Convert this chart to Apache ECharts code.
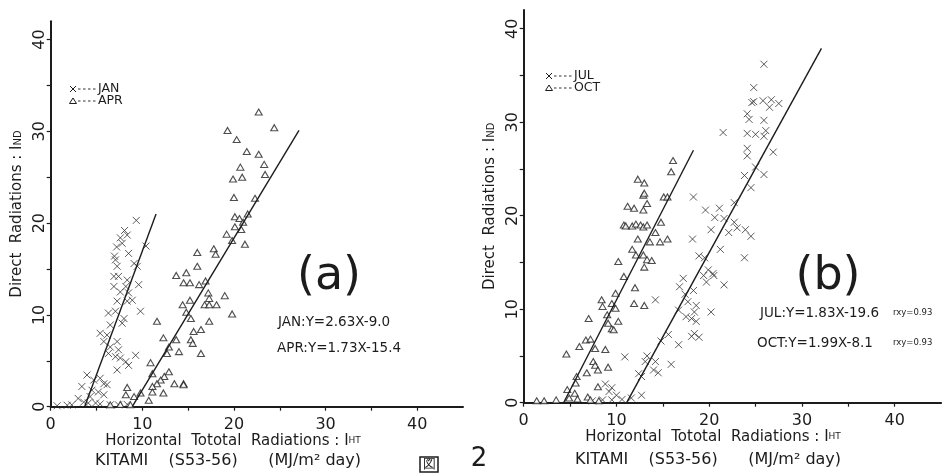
<!DOCTYPE html>
<html>
<head>
<meta charset="utf-8">
<script src="https://cdn.jsdelivr.net/npm/echarts@6/dist/echarts.min.js"></script>
<style>html,body{margin:0;padding:0;background:#fff;}#c{width:946px;height:473px;}</style>
</head>
<body>
<div id="c"></div>
<script>
// ---- tick values ----
const majorTicks = [0, 10, 20, 30, 40];
const minorTicks = [0, 5, 10, 15, 20, 25, 30, 35, 40];

// ---- panel (a): JAN (x) and APR (triangle) ----
const jan = [
  [9.34,20.3],[8.06,19.2],[8.35,18.7],[7.6,18.4],[7.8,17.8],[7.2,17.4],[10.4,17.5],[6.96,16.4],
  [7.07,16.0],[8.5,16.7],[7.25,15.3],[9.1,15.6],[9.45,15.3],[6.9,14.2],[7.4,14.2],[8.35,13.8],
  [8.2,13.1],[9.6,13.3],[6.9,13.1],[7.6,12.5],[8.5,12.4],[8.9,11.6],[7.25,11.5],[8.35,11.5],
  [9.8,10.4],[7.07,10.4],[6.3,10.2],[8.0,9.6],[7.8,9.1],[6.5,8.9],[5.4,8.0],[6.15,7.8],
  [5.8,7.1],[7.25,7.1],[6.5,6.5],[7.4,6.2],[6.3,5.8],[7.07,5.45],[7.6,5.3],[9.27,5.6],
  [8.2,4.9],[8.5,4.5],[7.25,4.0],[3.96,3.45],[5.4,3.1],[4.7,2.9],[5.8,2.5],[6.15,2.4],
  [3.4,2.2],[4.5,1.8],[5.2,1.6],[5.8,1.3],[4.3,1.1],[3.0,0.9],[3.6,0.5],[4.1,0.4],
  [4.9,0.4],[5.4,0.3],[6.5,0.2],[7.4,0.2],[1.8,0.15],[0.7,0.1],[2.3,0.2],[8.35,0.25]
];
const apr = [
  [22.7,32.1],[24.4,30.4],[19.3,30.1],[20.3,29.1],[21.4,27.8],[22.7,27.5],[23.3,26.4],[20.7,26.1],
  [19.9,24.8],[20.9,25.0],[23.4,25.3],[20.0,22.8],[22.3,22.7],[21.5,21.0],[20.1,20.7],[20.6,20.5],
  [20.1,19.6],[21.0,20.1],[20.8,19.3],[19.2,18.8],[19.8,18.1],[21.2,17.7],[16.0,16.8],[17.8,17.2],
  [18.0,16.6],[16.0,15.3],[13.7,14.3],[14.8,14.6],[14.5,13.5],[15.2,13.5],[16.2,13.3],[16.9,13.7],
  [17.2,12.4],[19.0,12.1],[17.3,11.8],[16.8,11.1],[17.3,11.1],[18.1,11.1],[15.2,11.6],[14.4,11.1],
  [14.8,10.3],[15.3,9.6],[19.8,10.1],[11.6,9.3],[17.3,9.3],[15.6,8.2],[16.4,8.4],[12.3,7.5],
  [13.7,7.3],[15.3,7.3],[15.5,6.9],[12.9,6.5],[14.0,6.0],[12.7,5.8],[16.4,5.8],[10.9,4.8],
  [11.1,3.6],[12.9,3.8],[12.4,3.3],[12.0,2.9],[11.6,2.5],[11.1,2.2],[13.5,2.5],[14.5,2.5],
  [14.5,2.4],[12.3,1.5],[11.1,1.6],[8.35,2.1],[8.2,1.3],[9.8,1.5],[10.7,0.7],[9.1,1.1],
  [7.6,0.25],[8.7,0.2],[6.5,0.2]
];
const janFit = [[3.7,0],[11.5,21.0]];
const aprFit = [[8.9,0],[27.1,30.1]];

// ---- panel (b): JUL (x) and OCT (triangle) ----
const jul = [
  [25.9,36.2],[24.8,33.7],[24.8,32.2],[24.6,32.1],[25.8,32.3],[26.7,32.4],[27.5,32.0],[26.5,31.6],
  [24.1,30.9],[24.3,30.3],[25.9,30.2],[21.5,28.9],[24.1,28.8],[25.0,28.7],[26.1,29.1],[25.9,28.5],
  [24.1,27.2],[24.1,26.4],[26.9,26.8],[25.0,25.2],[23.8,24.3],[25.9,24.4],[24.5,23.0],[18.3,22.0],
  [22.7,21.4],[19.6,20.6],[21.1,20.8],[20.6,19.8],[21.6,19.7],[22.7,19.3],[20.2,18.5],[22.1,18.2],
  [23.0,18.7],[23.9,18.5],[24.5,17.8],[18.2,17.5],[21.2,16.4],[23.8,15.5],[18.9,15.7],[19.5,15.5],
  [21.6,12.6],[19.9,14.2],[19.4,13.6],[20.4,13.8],[20.5,13.6],[19.7,12.9],[17.2,13.3],[16.8,12.4],
  [18.3,12.0],[17.4,11.6],[17.7,10.8],[18.6,10.4],[20.2,9.7],[18.4,9.7],[17.5,9.2],[18.1,9.0],
  [18.6,8.7],[16.7,9.9],[14.2,11.0],[18.4,7.4],[18.1,7.1],[18.9,7.0],[15.6,7.3],[14.8,6.6],
  [16.7,6.2],[10.9,4.9],[13.3,5.0],[14.2,4.4],[13.1,4.4],[15.9,4.1],[14.0,3.5],[14.5,3.2],
  [12.4,3.1],[12.7,2.8],[8.8,2.0],[9.5,1.6],[9.2,1.2],[10.0,0.8],[12.7,0.8],[11.6,0.5],
  [10.6,0.35],[9.5,0.3],[8.5,0.3],[7.4,0.2]
];
const oct = [
  [16.1,25.9],[15.9,24.7],[12.3,23.9],[13.0,23.5],[12.9,22.2],[13.0,22.4],[15.1,22.0],[15.5,22.0],
  [11.2,21.0],[11.9,20.8],[13.3,21.3],[12.9,20.6],[10.8,19.0],[11.0,18.9],[11.7,18.9],[12.1,19.1],
  [12.6,19.0],[12.9,18.8],[13.3,19.0],[14.8,19.3],[12.3,17.5],[13.6,17.2],[14.2,18.2],[15.5,17.5],
  [14.7,17.2],[11.7,16.4],[12.1,15.8],[12.9,15.8],[13.3,15.3],[13.8,15.2],[13.0,14.5],[10.2,15.1],
  [10.8,13.5],[12.0,12.3],[11.9,10.6],[13.0,10.4],[9.9,11.7],[8.4,11.0],[9.5,10.6],[8.5,10.3],
  [9.9,10.1],[7.0,9.0],[9.0,9.4],[10.2,8.7],[9.1,8.5],[9.5,7.9],[9.7,7.8],[6.7,6.7],
  [7.2,6.8],[6.0,6.0],[4.6,5.2],[7.7,5.8],[8.8,5.7],[7.5,4.4],[7.7,4.0],[8.0,3.5],
  [9.1,3.8],[6.8,3.2],[5.7,2.8],[5.6,2.1],[8.0,1.7],[4.7,1.4],[5.5,1.0],[6.9,0.6],
  [4.9,0.5],[5.8,0.4],[7.2,0.3],[3.5,0.3],[2.2,0.2],[1.4,0.2],[8.1,0.2]
];
const julFit = [[11.1,0],[32.1,37.9]];
const octFit = [[4.3,0],[18.3,27.0]];

// ---- style helpers ----
const INK = '#1c1c1c';
const FONT = 'DejaVu Sans';
const crossSymbol = 'path://M0,0L10,10M10,0L0,10';
const majorOnly = v => (majorTicks.indexOf(v) >= 0 ? String(v) : '');

function xAxisCfg(gi) {
  return {
    type: 'value', gridIndex: gi, min: 0, max: 45, interval: 5,
    axisLine: { show: true, lineStyle: { color: INK, width: 2 } },
    axisTick: { show: true, length: 4, lineStyle: { color: INK, width: 1.2 }, customValues: minorTicks },
    axisLabel: { color: INK, fontSize: 16, fontFamily: FONT, margin: 10, formatter: majorOnly,
      showMinLabel: true, showMaxLabel: false },
    splitLine: { show: false }
  };
}
function yAxisCfg(gi) {
  return {
    type: 'value', gridIndex: gi, min: 0, max: 42, interval: 5,
    name: 'Direct  Radiations : I{s|ND}', nameLocation: 'middle', nameRotate: 90, nameGap: 26,
    nameTextStyle: { color: INK, fontSize: 15, fontFamily: FONT,
      rich: { s: { fontSize: 10, fontFamily: FONT, color: INK, padding: [0,0,-3,0] } } },
    axisLine: { show: true, lineStyle: { color: INK, width: 2 } },
    axisTick: { show: true, length: 4, lineStyle: { color: INK, width: 1.2 }, customValues: minorTicks },
    axisLabel: { color: INK, fontSize: 16, fontFamily: FONT, rotate: 90, margin: 3, formatter: majorOnly,
      showMinLabel: true, showMaxLabel: false },
    splitLine: { show: false }
  };
}
function crossSeries(name, data, gi) {
  return { name, type: 'scatter', xAxisIndex: gi, yAxisIndex: gi, data,
    symbol: crossSymbol, symbolSize: 7,
    itemStyle: { color: 'rgba(0,0,0,0)', borderColor: '#333', borderWidth: 1 }, z: 3 };
}
function triSeries(name, data, gi) {
  return { name, type: 'scatter', xAxisIndex: gi, yAxisIndex: gi, data,
    symbol: 'triangle', symbolSize: [7, 6],
    itemStyle: { color: '#ffffff', borderColor: '#222', borderWidth: 1.1 }, z: 3 };
}
function fitSeries(name, data, gi) {
  return { name, type: 'line', xAxisIndex: gi, yAxisIndex: gi, data,
    symbol: 'none', lineStyle: { color: INK, width: 1.4 }, z: 4 };
}
function txt(text, x, y, size, align, extra) {
  return Object.assign({ type: 'text', x, y, silent: true,
    style: { text, fontSize: size, fontFamily: FONT, fill: INK, align: align || 'left', verticalAlign: 'middle' } }, extra || {});
}
function legendItem(x, y, isCross, label) {
  const els = [];
  if (isCross) {
    els.push({ type: 'polyline', shape: { points: [[x-3,y-3],[x+3,y+3]] }, style: { stroke: INK, lineWidth: 1, fill: null } });
    els.push({ type: 'polyline', shape: { points: [[x+3,y-3],[x-3,y+3]] }, style: { stroke: INK, lineWidth: 1, fill: null } });
  } else {
    els.push({ type: 'polygon', shape: { points: [[x,y-3],[x+3.5,y+2.5],[x-3.5,y+2.5]] }, style: { stroke: INK, lineWidth: 1, fill: '#fff' } });
  }
  els.push({ type: 'line', shape: { x1: x+5, y1: y, x2: x+24, y2: y }, style: { stroke: INK, lineWidth: 0.9, lineDash: [2.5, 2.5] } });
  els.push(txt(label, x+25, y, 12.5, 'left'));
  return els;
}

const chart = echarts.init(document.getElementById('c'), null, { renderer: 'canvas' });
chart.setOption({
  animation: false,
  backgroundColor: '#ffffff',
  textStyle: { fontFamily: FONT },
  grid: [
    { left: 50.7, top: 21.2, width: 412.3, height: 385.5 },
    { left: 523.7, top: 10, width: 417.4, height: 392.7 }
  ],
  xAxis: [xAxisCfg(0), xAxisCfg(1)],
  yAxis: [yAxisCfg(0), yAxisCfg(1)],
  series: [
    crossSeries('JAN', jan, 0), triSeries('APR', apr, 0),
    fitSeries('JAN fit', janFit, 0), fitSeries('APR fit', aprFit, 0),
    crossSeries('JUL', jul, 1), triSeries('OCT', oct, 1),
    fitSeries('JUL fit', julFit, 1), fitSeries('OCT fit', octFit, 1)
  ],
  graphic: [].concat(
    legendItem(73, 89, true, 'JAN'),
    legendItem(73, 101, false, 'APR'),
    legendItem(549, 76, true, 'JUL'),
    legendItem(549, 88, false, 'OCT'),
    [
      txt('(a)', 329, 277, 46, 'center'),
      txt('JAN:Y=2.63X-9.0', 278, 322, 13.5, 'left'),
      txt('APR:Y=1.73X-15.4', 277, 348, 13.5, 'left'),
      txt('(b)', 828, 277, 46, 'center'),
      txt('JUL:Y=1.83X-19.6', 760, 313, 13.5, 'left'),
      txt('rxy=0.93', 893, 313, 8.5, 'left'),
      txt('OCT:Y=1.99X-8.1', 757, 343, 13.5, 'left'),
      txt('rxy=0.93', 893, 343, 8.5, 'left'),
      { type: 'text', x: 233, y: 441, silent: true,
        style: { text: 'Horizontal  Tototal  Radiations : I{s|HT}', fontSize: 15, fontFamily: FONT, fill: INK,
          align: 'center', verticalAlign: 'middle', rich: { s: { fontSize: 9, fontFamily: FONT, fill: INK } } } },
      txt('KITAMI    (S53-56)      (MJ/m² day)', 228, 461, 16, 'center'),
      { type: 'text', x: 713, y: 437, silent: true,
        style: { text: 'Horizontal  Tototal  Radiations : I{s|HT}', fontSize: 15, fontFamily: FONT, fill: INK,
          align: 'center', verticalAlign: 'middle', rich: { s: { fontSize: 9, fontFamily: FONT, fill: INK } } } },
      txt('KITAMI    (S53-56)      (MJ/m² day)', 708, 460, 16, 'center'),
      { type: 'rect', shape: { x: 420, y: 457, width: 18, height: 15 }, style: { fill: null, stroke: INK, lineWidth: 1.5 } },
      txt('図', 429, 465, 13, 'center'),
      txt('2', 479, 459, 26, 'center')
    ]
  )
});
</script>
</body>
</html>
